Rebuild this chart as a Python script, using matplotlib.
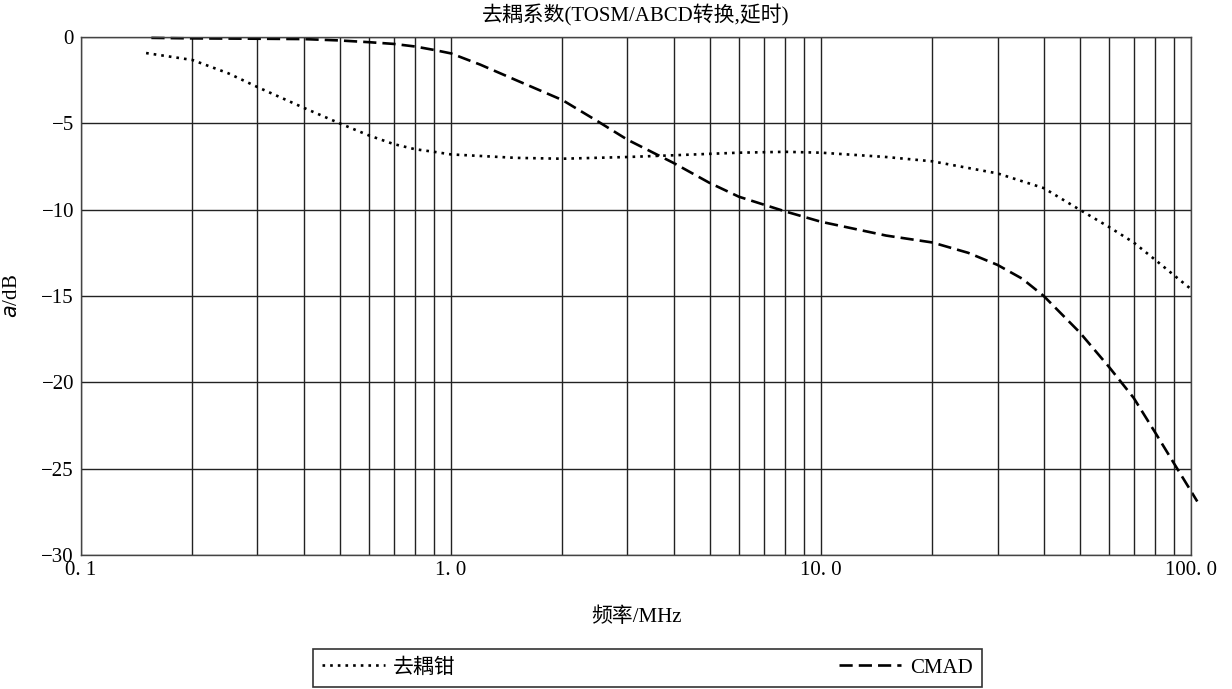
import numpy as np
import matplotlib
matplotlib.use("Agg")
import matplotlib.pyplot as plt

plt.rcParams['font.family'] = ['Liberation Serif', 'Noto Sans CJK SC']

# 去耦钳 (dotted)
clamp_f = [0.15, 0.2, 0.25, 0.3, 0.4, 0.5, 0.6, 0.7, 0.8, 0.9, 1.0, 1.5, 2, 3, 4,
           6, 8, 10, 15, 20, 30, 40, 50, 60, 70, 80, 90, 100]
clamp_db = [-0.93, -1.33, -2.1, -2.9, -4.1, -5.0, -5.7, -6.2, -6.5, -6.65, -6.8, -7.0,
            -7.05, -6.95, -6.85, -6.7, -6.65, -6.7, -6.95, -7.2, -7.9, -8.75, -10.0,
            -11.0, -11.9, -12.9, -13.8, -14.6]

# CMAD (dashed)
cmad_f = [0.155, 0.2, 0.3, 0.4, 0.5, 0.6, 0.7, 0.8, 0.9, 1.0, 1.2, 1.5, 2, 2.5, 3, 4,
          5, 6, 8, 10, 15, 20, 25, 30, 35, 40, 50, 60, 70, 80, 90, 100, 104]
cmad_db = [-0.05, -0.08, -0.1, -0.12, -0.2, -0.3, -0.4, -0.55, -0.75, -0.95, -1.6,
           -2.5, -3.65, -4.9, -5.95, -7.3, -8.45, -9.25, -10.1, -10.7, -11.5, -11.9,
           -12.5, -13.2, -14.0, -15.0, -17.1, -19.1, -20.9, -22.9, -24.7, -26.3, -26.9]

xtick_vals = [0.1, 1.0, 10.0, 100.0]
xtick_labels = ['0. 1', '1. 0', '10. 0', '100. 0']
ytick_vals = [0, -5, -10, -15, -20, -25, -30]

fig = plt.figure(figsize=(12.32, 6.89), dpi=100)
ax = fig.add_axes([0.0657, 0.1945, 0.901, 0.7518])

ax.plot(clamp_f, clamp_db, color='black', lw=1.9, linestyle=(0, (1.0, 1.9)),
        label='去耦钳')
ax.plot(cmad_f, cmad_db, color='black', lw=1.9, linestyle=(0, (5.0, 2.3)),
        label='CMAD', clip_on=False)

ax.set_xscale('log')
ax.set_xlim(0.1, 100)
ax.set_ylim(-30, 0)
ax.set_xticks(xtick_vals)
ax.set_xticklabels(xtick_labels)
ax.xaxis.set_minor_locator(matplotlib.ticker.LogLocator(base=10, subs=np.arange(2, 10)))
ax.xaxis.set_minor_formatter(matplotlib.ticker.NullFormatter())
ax.set_yticks(ytick_vals)
ax.tick_params(which='both', length=0, labelsize=15, colors='black')
ax.tick_params(axis='x', pad=4)
ax.tick_params(axis='y', pad=5)
ax.grid(True, which='both', color='#222222', lw=1.0)
for sp in ax.spines.values():
    sp.set_color('#444444')
    sp.set_linewidth(1.0)

ax.set_title('去耦系数(TOSM/ABCD转换,延时)', fontsize=15, pad=11)
ax.set_xlabel('频率/MHz', fontsize=15, labelpad=20)
ax.set_ylabel(r'$a$/dB', fontsize=15, labelpad=14)

leg = fig.legend(loc='lower left', bbox_to_anchor=(0.254, 0.003, 0.543, 0.056),
                 mode='expand', ncol=2, fontsize=15, frameon=True, fancybox=False,
                 edgecolor='black', handlelength=3.0, borderpad=0.45,
                 handletextpad=0.4, borderaxespad=0)
leg.get_frame().set_linewidth(1.2)

fig.savefig('out.png', dpi=100)
